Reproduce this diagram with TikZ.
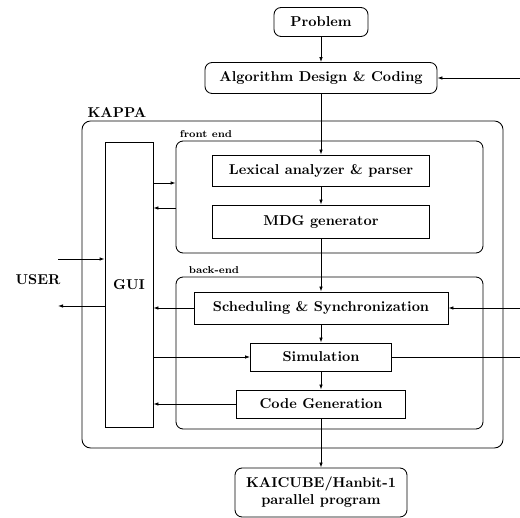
\documentclass[tikz,border=0pt]{standalone}
\usepackage{tikz}
\usetikzlibrary{arrows.meta}

\begin{document}
\begin{tikzpicture}[x=0.7pt, y=-0.7pt, font=\bfseries,
  paso/.style={draw, semithick, inner sep=0pt, align=center},
  term/.style={paso, rounded corners=5pt},
  marco/.style={draw, semithick, rounded corners=5pt, inner sep=0pt},
  etiq/.style={font=\scriptsize\bfseries, inner sep=0pt},
  punta/.style={-{Latex[length=3.5pt, width=2.5pt]}, semithick}]
\useasboundingbox (0,0) rectangle (520,518);
% marcos
\node[marco, rounded corners=6pt, minimum width=294.7pt, minimum height=228.9pt] (kappa) at (292.5,284.5) {};
\node[marco, minimum width=214.9pt, minimum height=78.4pt] (front) at (329.5,197) {};
\node[marco, minimum width=214.9pt, minimum height=106.4pt] (back) at (329.5,353) {};
\node[font=\bfseries, inner sep=0pt] (lkappa) at (117,113) {KAPPA};
\node[etiq] (lfront) at (206,134) {front end};
\node[etiq] (lback) at (214,270) {back-end};
% bloques
\node[term, minimum width=65.8pt, minimum height=20.3pt] (prob) at (321,22) {Problem};
\node[term, minimum width=162.4pt, minimum height=21.7pt] (alg) at (321,78) {Algorithm Design \& Coding};
\node[paso, minimum width=33.6pt, minimum height=199.5pt] (gui) at (129,284.5) {GUI};
\node[paso, minimum width=151.9pt, minimum height=21.7pt] (lex) at (321,170.5) {Lexical analyzer \& parser};
\node[paso, minimum width=151.9pt, minimum height=23.1pt] (mdg) at (321,221.5) {MDG generator};
\node[paso, minimum width=177.8pt, minimum height=22.4pt] (sched) at (321,308) {Scheduling \& Synchronization};
\node[paso, minimum width=98.7pt, minimum height=19.6pt] (sim) at (321,357) {Simulation};
\node[paso, minimum width=118.3pt, minimum height=19.6pt] (code) at (321,404) {Code Generation};
\node[term, minimum width=120.4pt, minimum height=34.3pt] (kai) at (321,492.5) {KAICUBE/Hanbit-1\\parallel program};
\node[inner sep=0pt] (user) at (38,280) {USER};
% extremos libres
\coordinate (ralg) at (520,78);
\coordinate (rsched) at (520,308);
\coordinate (rsim) at (520,357);
\coordinate (uin) at (58,259);
\coordinate (uout) at (58,306);
% flechas
\draw[punta] (prob)--(alg); \draw[punta] (alg)--(lex); \draw[punta] (lex)--(mdg);
\draw[punta] (mdg)--(sched); \draw[punta] (sched)--(sim); \draw[punta] (sim)--(code);
\draw[punta] (code)--(kai);
\draw[punta] (ralg)--(alg.east);
\draw[punta] (rsched)--(sched.east);
\draw[semithick] (sim.east)--(rsim);
\draw[punta] (gui.east |- 0,183)--(front.west |- 0,183);
\draw[punta] (front.west |- 0,208)--(gui.east |- 0,208);
\draw[punta] (sched.west)--(gui.east |- sched.west);
\draw[punta] (gui.east |- sim.west)--(sim.west);
\draw[punta] (code.west)--(gui.east |- code.west);
\draw[punta] (uin)--(gui.west |- uin);
\draw[punta] (gui.west |- uout)--(uout);
\end{tikzpicture}
\end{document}
